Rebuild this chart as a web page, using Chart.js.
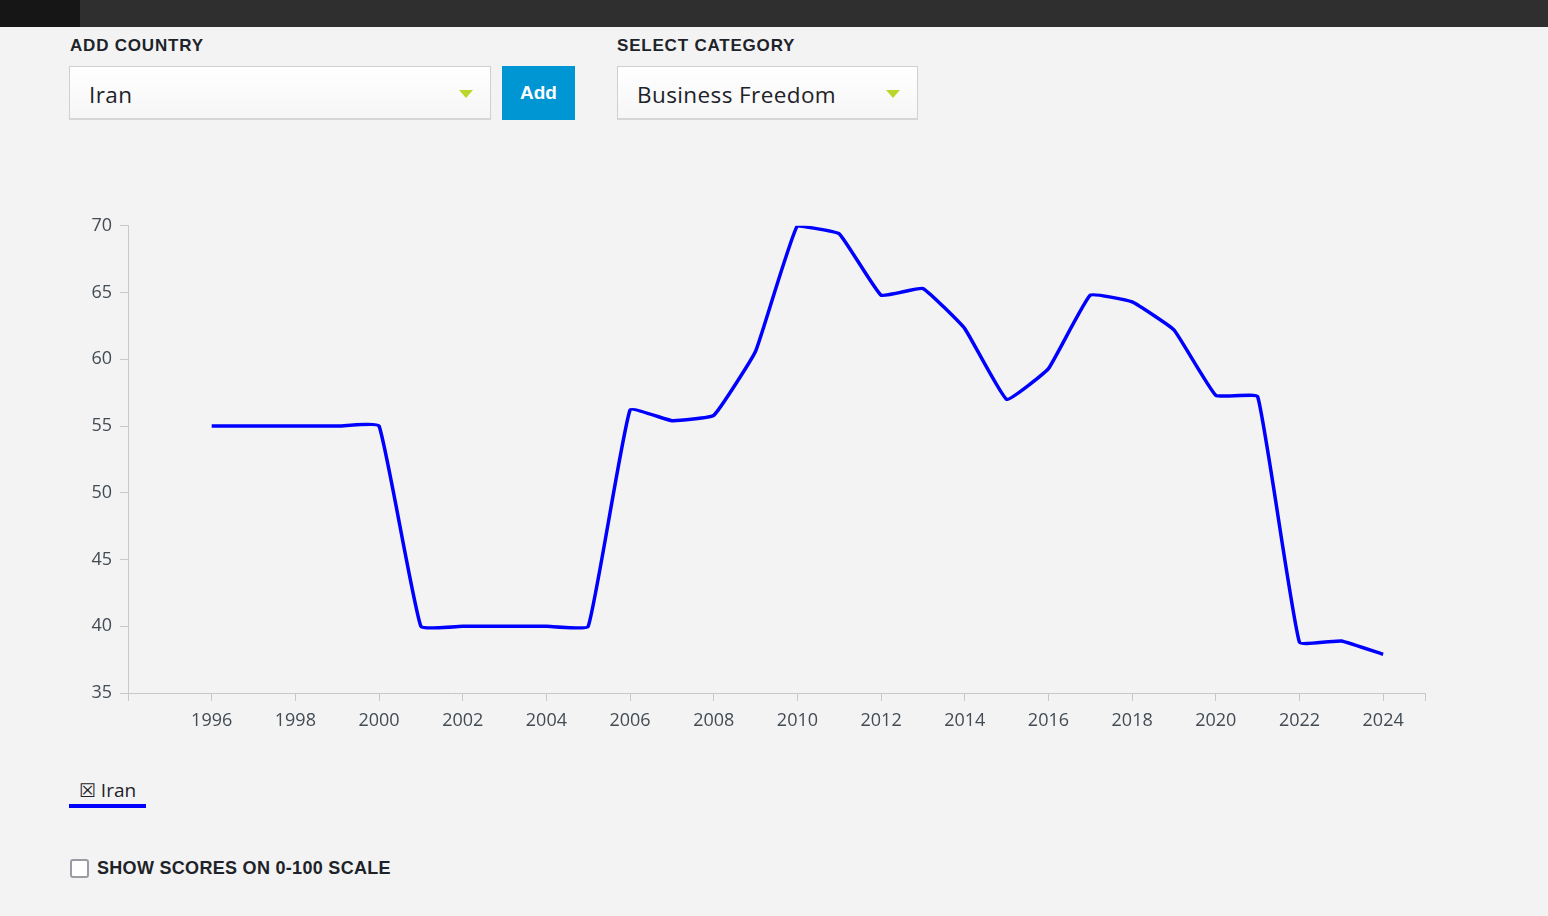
<!DOCTYPE html>
<html>
<head>
<meta charset="utf-8">
<script src="https://cdn.jsdelivr.net/npm/chart.js@4"></script>
<style>
  html, body { margin: 0; padding: 0; }
  body {
    width: 1548px; height: 916px; overflow: hidden;
    background: #f3f3f3; position: relative;
    font-family: "Open Sans", "Noto Sans", sans-serif; color: #1d2329;
  }
  .topbar { position: absolute; left: 0; top: 0; width: 1548px; height: 27px; background: #2f2f2f; }
  .topbar .dark { position: absolute; left: 0; top: 0; width: 80px; height: 27px; background: #161616; }
  .label {
    position: absolute; top: 36px; font-family: "Liberation Sans", sans-serif;
    font-weight: bold; font-size: 17px; letter-spacing: 0.8px; color: #1d2329;
  }
  .select {
    position: absolute; top: 66px; height: 54px; box-sizing: border-box;
    background: linear-gradient(#ffffff, #f6f6f6);
    border: 1px solid #d0d0d0; border-bottom: 2px solid #d6d6d6;
    font-size: 22.5px; line-height: 56px; padding-left: 19px; color: #1d2329;
    letter-spacing: 0.4px;
  }
  .select .arrow {
    position: absolute; top: 23px; width: 0; height: 0;
    border-left: 7px solid transparent; border-right: 7px solid transparent;
    border-top: 8px solid #bcd52b;
  }
  .btn {
    position: absolute; left: 502px; top: 66px; width: 73px; height: 54px;
    background: #0095d3; color: #fff; font-family: "Liberation Sans", sans-serif;
    font-weight: bold; font-size: 19px; text-align: center; line-height: 54px;
  }
  #chartBox { position: absolute; left: 60px; top: 207px; width: 1380px; height: 533px; }
  .legend {
    position: absolute; left: 69px; top: 776px; width: 77px; height: 28px;
    border-bottom: 4px solid #0000ff; font-size: 19px; line-height: 28px;
    text-align: center; color: #1d2329;
  }
  .check {
    position: absolute; left: 70px; top: 859px; width: 15px; height: 15px;
    border: 2px solid #9a9ca3; border-radius: 3px; background: #fff;
  }
  .checklabel {
    position: absolute; left: 97px; top: 858px; font-family: "Liberation Sans", sans-serif;
    font-weight: bold; font-size: 18px; letter-spacing: 0.3px; color: #1d2329;
  }
</style>
</head>
<body>
<div class="topbar"><div class="dark"></div></div>

<div class="label" style="left:70px">ADD COUNTRY</div>
<div class="select" style="left:69px; width:422px">Iran<span class="arrow" style="left:389px"></span></div>
<div class="btn">Add</div>

<div class="label" style="left:617px">SELECT CATEGORY</div>
<div class="select" style="left:617px; width:301px">Business Freedom<span class="arrow" style="left:268px"></span></div>

<div id="chartBox"><canvas id="lineChart"></canvas></div>

<div class="legend">&#x2612; Iran</div>

<div class="check"></div>
<div class="checklabel">SHOW SCORES ON 0-100 SCALE</div>

<script>
const countryName = "Iran";
const years = [1996, 1997, 1998, 1999, 2000, 2001, 2002, 2003, 2004, 2005,
               2006, 2007, 2008, 2009, 2010, 2011, 2012, 2013, 2014, 2015,
               2016, 2017, 2018, 2019, 2020, 2021, 2022, 2023, 2024];
const scores = [55, 55, 55, 55, 55, 40, 40, 40, 40, 40,
                56.2, 55.4, 55.8, 60.6, 70, 69.4, 64.8, 65.3, 62.3, 57.0,
                59.3, 64.8, 64.3, 62.2, 57.3, 57.2, 38.8, 38.9, 37.9];
const yearTicks = [1996, 1998, 2000, 2002, 2004, 2006, 2008, 2010,
                   2012, 2014, 2016, 2018, 2020, 2022, 2024];
const scoreTicks = [35, 40, 45, 50, 55, 60, 65, 70];

const tickFont = { family: "'Open Sans', 'Noto Sans', sans-serif", size: 18 };
const axisGrey = '#c8c8c8';

document.addEventListener("DOMContentLoaded", () => {
  const ctx = document.getElementById("lineChart").getContext("2d");
  new Chart(ctx, {
    type: 'line',
    data: {
      datasets: [{
        label: countryName,
        data: years.map((y, i) => ({ x: y, y: scores[i] })),
        borderColor: '#0000ff',
        borderWidth: 3.5,
        pointRadius: 0,
        tension: 0.1,
        fill: false
      }]
    },
    options: {
      responsive: true,
      maintainAspectRatio: false,
      animation: false,
      layout: { padding: { left: 0, right: 15, top: 13, bottom: 0 } },
      plugins: {
        legend: { display: false },
        tooltip: { enabled: false }
      },
      scales: {
        x: {
          type: 'linear',
          min: 1994,
          max: 2025,
          afterBuildTicks: scale => {
            scale.ticks = [scale.min, ...yearTicks, scale.max].map(v => ({ value: v }));
          },
          afterFit: scale => { scale.height = 47; },
          ticks: {
            autoSkip: false,
            maxRotation: 0,
            padding: 9,
            color: '#434b53',
            font: tickFont,
            callback: v => yearTicks.includes(v) ? String(v) : ''
          },
          grid: { drawOnChartArea: false, color: axisGrey, tickLength: 8 },
          border: { color: axisGrey }
        },
        y: {
          min: 35,
          max: 70,
          afterBuildTicks: scale => {
            scale.ticks = scoreTicks.map(v => ({ value: v }));
          },
          afterFit: scale => { scale.width = 68; },
          ticks: {
            padding: 8,
            color: '#434b53',
            font: tickFont
          },
          grid: { drawOnChartArea: false, color: axisGrey, tickLength: 8 },
          border: { color: axisGrey }
        }
      }
    }
  });
});
</script>
</body>
</html>
